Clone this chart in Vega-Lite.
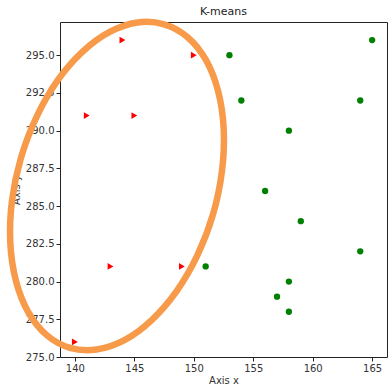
{
  "$schema": "https://vega.github.io/schema/vega-lite/v6.json",
  "autosize": "none",
  "width": 327,
  "height": 335,
  "padding": {"left": 60, "top": 22, "right": 1, "bottom": 28},
  "background": "white",
  "title": {"text": "K-means", "fontSize": 11, "fontWeight": "normal", "font": "DejaVu Sans", "color": "#222", "offset": 4, "frame": "group", "dy": 12},
  "config": {
    "view": {"stroke": "#222", "strokeWidth": 1},
    "axis": {"grid": false, "domain": false, "tickColor": "#222", "tickSize": 4, "labelFont": "DejaVu Sans", "labelFontSize": 10, "labelColor": "#333", "titleFont": "DejaVu Sans", "titleFontSize": 10, "titleFontWeight": "normal", "titleColor": "#333"}
  },
  "datasets": {
    "pts": [
      {"x": 144, "y": 296, "cluster": "A"},
      {"x": 150, "y": 295, "cluster": "A"},
      {"x": 141, "y": 291, "cluster": "A"},
      {"x": 145, "y": 291, "cluster": "A"},
      {"x": 143, "y": 281, "cluster": "A"},
      {"x": 149, "y": 281, "cluster": "A"},
      {"x": 140, "y": 276, "cluster": "A"},
      {"x": 165, "y": 296, "cluster": "B"},
      {"x": 153, "y": 295, "cluster": "B"},
      {"x": 154, "y": 292, "cluster": "B"},
      {"x": 164, "y": 292, "cluster": "B"},
      {"x": 158, "y": 290, "cluster": "B"},
      {"x": 156, "y": 286, "cluster": "B"},
      {"x": 159, "y": 284, "cluster": "B"},
      {"x": 164, "y": 282, "cluster": "B"},
      {"x": 151, "y": 281, "cluster": "B"},
      {"x": 158, "y": 280, "cluster": "B"},
      {"x": 157, "y": 279, "cluster": "B"},
      {"x": 158, "y": 278, "cluster": "B"}
    ],
    "ellipse": [
      {"i": 0, "x": 147.5, "y": 297.05},
      {"i": 1, "x": 149.46, "y": 296.21},
      {"i": 2, "x": 151.01, "y": 294.7},
      {"i": 3, "x": 152.05, "y": 292.61},
      {"i": 4, "x": 152.52, "y": 290.09},
      {"i": 5, "x": 152.37, "y": 287.32},
      {"i": 6, "x": 151.63, "y": 284.48},
      {"i": 7, "x": 150.32, "y": 281.77},
      {"i": 8, "x": 148.56, "y": 279.37},
      {"i": 9, "x": 146.46, "y": 277.45},
      {"i": 10, "x": 144.17, "y": 276.12},
      {"i": 11, "x": 141.82, "y": 275.5},
      {"i": 12, "x": 139.59, "y": 275.61},
      {"i": 13, "x": 137.63, "y": 276.45},
      {"i": 14, "x": 136.08, "y": 277.97},
      {"i": 15, "x": 135.04, "y": 280.06},
      {"i": 16, "x": 134.57, "y": 282.57},
      {"i": 17, "x": 134.71, "y": 285.34},
      {"i": 18, "x": 135.46, "y": 288.18},
      {"i": 19, "x": 136.77, "y": 290.9},
      {"i": 20, "x": 138.52, "y": 293.3},
      {"i": 21, "x": 140.63, "y": 295.22},
      {"i": 22, "x": 142.93, "y": 296.54},
      {"i": 23, "x": 145.27, "y": 297.17}
    ]
  },
  "layer": [
    {
      "data": {"name": "pts"},
      "transform": [{"filter": "datum.cluster == 'A'"}],
      "mark": {"type": "point", "shape": "triangle-right", "filled": true, "color": "#ff0000", "size": 45, "opacity": 1},
      "encoding": {
        "x": {"field": "x", "type": "quantitative", "scale": {"domain": [138.75, 166.25], "nice": false, "zero": false}, "axis": {"title": "Axis x", "values": [140, 145, 150, 155, 160, 165], "format": "d", "titlePadding": 2}},
        "y": {"field": "y", "type": "quantitative", "scale": {"domain": [275, 297.2], "nice": false, "zero": false}, "axis": {"title": "Axis y", "values": [275, 277.5, 280, 282.5, 285, 287.5, 290, 292.5, 295], "format": ".1f", "titlePadding": 4}}
      }
    },
    {
      "data": {"name": "pts"},
      "transform": [{"filter": "datum.cluster == 'B'"}],
      "mark": {"type": "point", "shape": "circle", "filled": true, "color": "#008000", "size": 40, "opacity": 1},
      "encoding": {
        "x": {"field": "x", "type": "quantitative"},
        "y": {"field": "y", "type": "quantitative"}
      }
    },
    {
      "data": {"name": "ellipse"},
      "mark": {"type": "line", "interpolate": "cardinal-closed", "color": "#f79a4a", "strokeWidth": 6.5, "clip": false},
      "encoding": {
        "x": {"field": "x", "type": "quantitative"},
        "y": {"field": "y", "type": "quantitative"},
        "order": {"field": "i", "type": "quantitative"}
      }
    }
  ]
}
